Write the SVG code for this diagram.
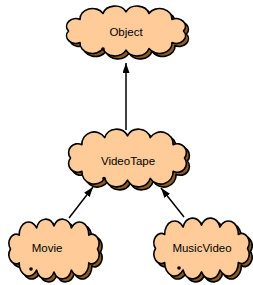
<svg xmlns="http://www.w3.org/2000/svg" xmlns:xlink="http://www.w3.org/1999/xlink" width="253" height="285" viewBox="0 0 253 285">
<style>
.shadow{fill:#8f5a24;stroke:#000;}
.body{fill:#ffcc99;stroke:#000;}
.dot{fill:#000;}
.lbl{font-family:"Liberation Sans",Arial,sans-serif;font-size:11.5px;fill:#000;text-anchor:middle;dominant-baseline:central;}
.conn line{stroke:#000;stroke-width:1.5;fill:none;}
</style>
<defs>
<path id="cloud" vector-effect="non-scaling-stroke" stroke-width="1.6" stroke-linejoin="round" d="M -40,-12 A10.8,10.8 0 0 1 -20,-18.3 A10.8,10.8 0 0 1 0,-20 A10.8,10.8 0 0 1 20,-18.3 A10.8,10.8 0 0 1 40,-12 A8,8 0 0 1 50,0 A8,8 0 0 1 40,12 A10.8,10.8 0 0 1 20,18.3 A10.8,10.8 0 0 1 0,20 A10.8,10.8 0 0 1 -20,18.3 A10.8,10.8 0 0 1 -40,12 A8,8 0 0 1 -50,0 A8,8 0 0 1 -40,-12 Z"/>
<marker id="arrow" markerUnits="userSpaceOnUse" markerWidth="11" markerHeight="8" refX="10" refY="3.5" orient="auto">
<path d="M0,0 L10,3.5 L0,7 Z" fill="#000"/>
</marker>
</defs>
<g id="connectors" class="conn">
<line x1="126" y1="130" x2="126" y2="63" marker-end="url(#arrow)"/>
<line x1="69" y1="218" x2="93" y2="187" marker-end="url(#arrow)"/>
<line x1="184" y1="217" x2="161" y2="188" marker-end="url(#arrow)"/>
</g>
<g id="Object">
<use xlink:href="#cloud" class="shadow" transform="translate(129,34) scale(1.15,0.96)"/>
<use xlink:href="#cloud" class="body" transform="translate(126,31) scale(1.15,0.96)"/>
<circle class="dot" cx="103" cy="49" r="1.8"/>
<text class="lbl" x="126" y="32">Object</text>
</g>
<g id="VideoTape">
<use xlink:href="#cloud" class="shadow" transform="translate(130.5,161) scale(1.14,1.11)"/>
<use xlink:href="#cloud" class="body" transform="translate(127.5,158) scale(1.14,1.11)"/>
<circle class="dot" cx="104" cy="178.5" r="1.8"/>
<text class="lbl" x="128" y="161">VideoTape</text>
</g>
<g id="Movie">
<use xlink:href="#cloud" class="shadow" transform="translate(57,252) scale(0.87,1.15)"/>
<use xlink:href="#cloud" class="body" transform="translate(54,249) scale(0.87,1.15)"/>
<circle class="dot" cx="31" cy="269" r="1.8"/>
<text class="lbl" x="47" y="248">Movie</text>
</g>
<g id="MusicVideo">
<use xlink:href="#cloud" class="shadow" transform="translate(204.5,251.5) scale(0.92,1.17)"/>
<use xlink:href="#cloud" class="body" transform="translate(201.5,248.5) scale(0.92,1.17)"/>
<circle class="dot" cx="179" cy="268" r="1.8"/>
<text class="lbl" x="202" y="248">MusicVideo</text>
</g>
</svg>
